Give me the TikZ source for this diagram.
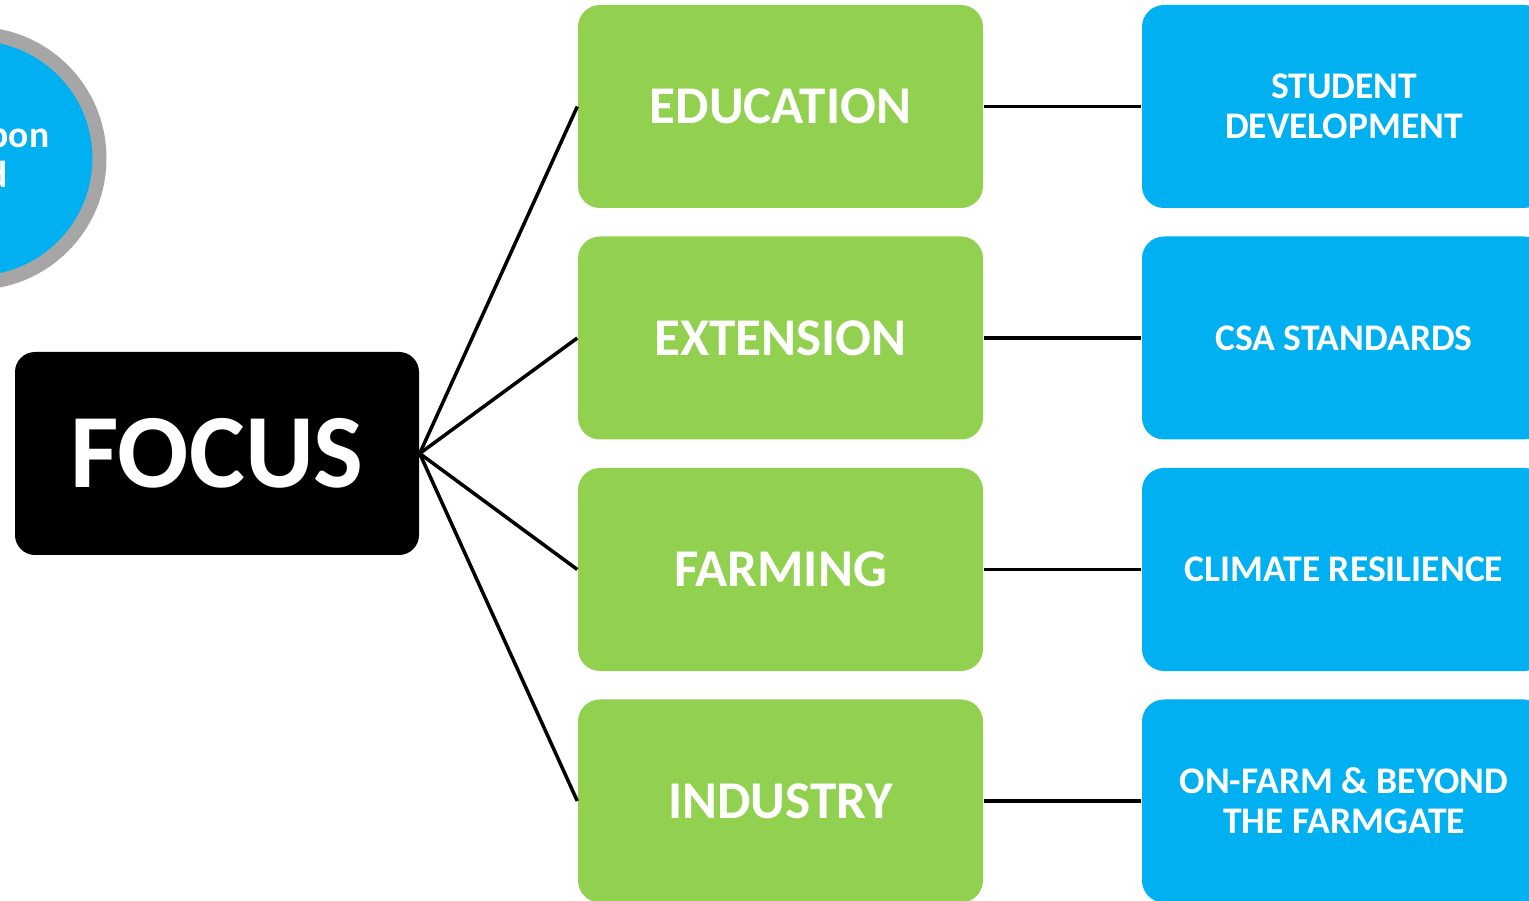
\documentclass[tikz,border=0pt]{standalone}
\usepackage{fontspec}
\setmainfont{Carlito}
\usetikzlibrary{positioning}

\definecolor{leafgreen}{HTML}{92D050}
\definecolor{skyblue}{HTML}{00B0F0}
\definecolor{ringgray}{HTML}{A6A6A6}

\tikzset{
  focusbox/.style={rectangle,rounded corners=0.2cm,fill=black,text=white,
    minimum width=4.04cm,minimum height=2.03cm,inner sep=0pt,
    font=\bfseries\fontsize{30}{33}\selectfont},
  areabox/.style={rectangle,rounded corners=0.22cm,fill=leafgreen,text=white,
    minimum width=4.05cm,minimum height=2.03cm,inner sep=0pt,
    font=\bfseries\fontsize{15.1}{18}\selectfont},
  goalbox/.style={rectangle,rounded corners=0.22cm,fill=skyblue,text=white,
    minimum width=4.04cm,minimum height=2.03cm,inner sep=0pt,align=center,
    font=\bfseries\fontsize{10.7}{11.4}\selectfont},
  link/.style={line width=1pt,black}
}

\begin{document}
\begin{tikzpicture}
\path [use as bounding box,clip] (0,0) rectangle (15.29,9);

% circle, cut by the left edge
\node (ring) [circle,fill=skyblue,draw=ringgray,line width=0.14cm,
  minimum size=2.49cm,inner sep=0pt] at (-0.25,7.417) {};
\node (ringa) [anchor=base east,text=white,inner sep=0pt,
  font=\bfseries\fontsize{10.7}{11.4}\selectfont] at (0.50,7.52) {pon};
\node (ringb) [anchor=base east,text=white,inner sep=0pt,
  font=\bfseries\fontsize{10.7}{11.4}\selectfont] at (0.08,7.12) {d};

\node (focus) [focusbox] at (2.17,4.465) {FOCUS};

\node (edu) [areabox] at (7.805,7.935) {EDUCATION};
\node (ext) [areabox] at (7.805,5.62) {EXTENSION};
\node (farm) [areabox] at (7.805,3.305) {FARMING};
\node (ind) [areabox] at (7.805,0.99) {INDUSTRY};

\node (dev) [goalbox] at (13.44,7.935) {STUDENT\\DEVELOPMENT};
\node (csa) [goalbox] at (13.44,5.62) {CSA STANDARDS};
\node (clim) [goalbox] at (13.44,3.305) {CLIMATE RESILIENCE};
\node (gate) [goalbox] at (13.44,0.99) {ON-FARM \& BEYOND\\THE FARMGATE};

\draw [link] (focus.east) -- (edu.west);
\draw [link] (focus.east) -- (ext.west);
\draw [link] (focus.east) -- (farm.west);
\draw [link] (focus.east) -- (ind.west);
\draw [link] (edu) -- (dev);
\draw [link] (ext) -- (csa);
\draw [link] (farm) -- (clim);
\draw [link] (ind) -- (gate);
\end{tikzpicture}
\end{document}
